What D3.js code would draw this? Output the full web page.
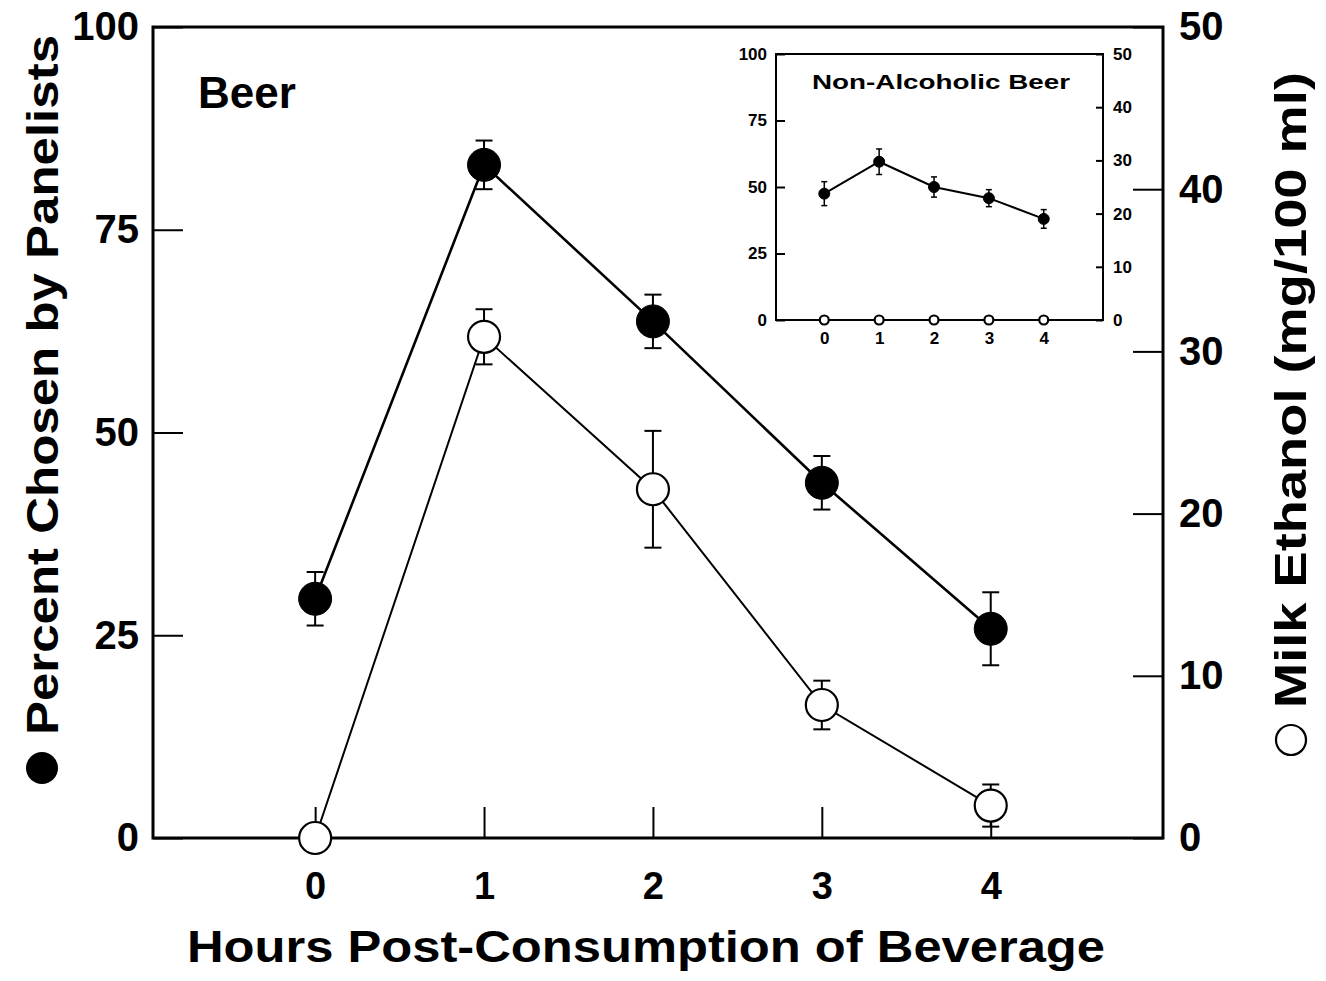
<!DOCTYPE html>
<html>
<head>
<meta charset="utf-8">
<script src="https://cdn.jsdelivr.net/npm/d3@7"></script>
<style>
  body { margin: 0; background: #fff; }
  text { font-family: "Liberation Sans", Arial, sans-serif; font-weight: bold; fill: #000; }
</style>
</head>
<body>
<script>
var width = 1326, height = 981;

// main panel: beer
var hours = [0, 1, 2, 3, 4];
var panelistPct = [29.5, 83, 63.7, 43.8, 25.8];
var panelistErr = [3.3, 3.0, 3.3, 3.3, 4.5];
var ethanol = [0, 30.9, 21.5, 8.2, 2.0];
var ethanolErr = [0, 1.7, 3.6, 1.5, 1.3];

// inset: non-alcoholic beer
var naPanelistPct = [47.5, 59.5, 50, 45.8, 38];
var naPanelistErr = [4.5, 4.8, 3.8, 3.2, 3.5];
var naEthanol = [0, 0, 0, 0, 0];

var leftTicks = [0, 25, 50, 75, 100];
var rightTicks = [0, 10, 20, 30, 40, 50];

var svg = d3.select("body")
            .append("svg")
            .attr("width", width)
            .attr("height", height);

// scales for the main panel
var x = d3.scaleLinear().domain([-0.96, 5.02]).range([153, 1163]);
var yL = d3.scaleLinear().domain([0, 100]).range([838, 27]);
var yR = d3.scaleLinear().domain([0, 50]).range([838, 27]);

function styleAxis(g, size) {
  g.select(".domain").remove();
  g.selectAll(".tick line").attr("stroke", "#000").attr("stroke-width", 2);
  g.selectAll(".tick text")
   .attr("font-size", size)
   .attr("font-family", "'Liberation Sans', Arial, sans-serif")
   .attr("font-weight", "bold");
}

svg.append("g")
   .attr("transform", "translate(153,0)")
   .call(d3.axisLeft(yL).tickValues(leftTicks).tickSize(-30).tickPadding(14))
   .call(styleAxis, 40);

svg.append("g")
   .attr("transform", "translate(1163,0)")
   .call(d3.axisRight(yR).tickValues(rightTicks).tickSize(-30).tickPadding(16))
   .call(styleAxis, 40);

svg.append("g")
   .attr("transform", "translate(0,838)")
   .call(d3.axisBottom(x).tickValues(hours).tickFormat(d3.format("d")).tickSize(-31).tickPadding(34))
   .call(styleAxis, 38);

// frame
svg.append("rect")
   .attr("x", 153).attr("y", 27)
   .attr("width", 1010).attr("height", 811)
   .attr("fill", "none")
   .attr("stroke", "#000")
   .attr("stroke-width", 3);

function errorBars(g, sx, sy, vals, errs, cap, sw) {
  var bars = g.append("g");
  vals.forEach(function(v, i) {
    if (!errs[i]) return;
    var cx = sx(hours[i]);
    bars.append("line")
        .attr("x1", cx).attr("x2", cx)
        .attr("y1", sy(v - errs[i])).attr("y2", sy(v + errs[i]))
        .attr("stroke", "#000").attr("stroke-width", sw);
    [v - errs[i], v + errs[i]].forEach(function(e) {
      bars.append("line")
          .attr("x1", cx - cap / 2).attr("x2", cx + cap / 2)
          .attr("y1", sy(e)).attr("y2", sy(e))
          .attr("stroke", "#000").attr("stroke-width", sw);
    });
  });
}

function series(g, sx, sy, vals, filled, r, lw) {
  var line = d3.line()
               .x(function(d, i) { return sx(hours[i]); })
               .y(function(d) { return sy(d); });
  g.append("path")
   .attr("d", line(vals))
   .attr("fill", "none")
   .attr("stroke", "#000")
   .attr("stroke-width", lw);
  g.append("g")
   .selectAll("circle")
   .data(vals)
   .enter()
   .append("circle")
   .attr("cx", function(d, i) { return sx(hours[i]); })
   .attr("cy", function(d) { return sy(d); })
   .attr("r", r)
   .attr("fill", filled ? "#000" : "#fff")
   .attr("stroke", "#000")
   .attr("stroke-width", filled ? 1 : 2.2);
}

var plot = svg.append("g");
errorBars(plot, x, yL, panelistPct, panelistErr, 17, 2);
errorBars(plot, x, yR, ethanol, ethanolErr, 17, 2);
series(plot, x, yR, ethanol, false, 16, 2);
series(plot, x, yL, panelistPct, true, 16.5, 2.6);

// panel label
svg.append("text")
   .attr("x", 198).attr("y", 108)
   .attr("font-size", 44)
   .text("Beer");

// axis titles
svg.append("text")
   .attr("x", 646).attr("y", 962)
   .attr("text-anchor", "middle")
   .attr("font-size", 44)
   .attr("textLength", 918)
   .attr("lengthAdjust", "spacingAndGlyphs")
   .text("Hours Post-Consumption of Beverage");

svg.append("circle")
   .attr("cx", 42).attr("cy", 768)
   .attr("r", 16)
   .attr("fill", "#000");

svg.append("text")
   .attr("transform", "translate(58,385) rotate(-90)")
   .attr("text-anchor", "middle")
   .attr("font-size", 44)
   .attr("textLength", 700)
   .attr("lengthAdjust", "spacingAndGlyphs")
   .text("Percent Chosen by Panelists");

svg.append("circle")
   .attr("cx", 1291).attr("cy", 740)
   .attr("r", 15)
   .attr("fill", "#fff")
   .attr("stroke", "#000")
   .attr("stroke-width", 2.2);

svg.append("text")
   .attr("transform", "translate(1306,390) rotate(-90)")
   .attr("text-anchor", "middle")
   .attr("font-size", 44)
   .attr("textLength", 636)
   .attr("lengthAdjust", "spacingAndGlyphs")
   .text("Milk Ethanol (mg/100 ml)");

// inset
var ix = d3.scaleLinear().domain([-0.88, 5.08]).range([776, 1103]);
var iyL = d3.scaleLinear().domain([0, 100]).range([320, 54]);
var iyR = d3.scaleLinear().domain([0, 50]).range([320, 54]);

var inset = svg.append("g");

inset.append("rect")
     .attr("x", 776).attr("y", 54)
     .attr("width", 327).attr("height", 266)
     .attr("fill", "#fff");

inset.append("g")
     .attr("transform", "translate(776,0)")
     .call(d3.axisLeft(iyL).tickValues(leftTicks).tickSize(-9).tickPadding(9))
     .call(styleAxis, 17);

inset.append("g")
     .attr("transform", "translate(1103,0)")
     .call(d3.axisRight(iyR).tickValues(rightTicks).tickSize(-7).tickPadding(10))
     .call(styleAxis, 17);

inset.append("g")
     .attr("transform", "translate(0,320)")
     .call(d3.axisBottom(ix).tickValues(hours).tickFormat(d3.format("d")).tickSize(0).tickPadding(12))
     .call(styleAxis, 17);

inset.append("rect")
     .attr("x", 776).attr("y", 54)
     .attr("width", 327).attr("height", 266)
     .attr("fill", "none")
     .attr("stroke", "#000")
     .attr("stroke-width", 2);

errorBars(inset, ix, iyL, naPanelistPct, naPanelistErr, 6, 1.5);
series(inset, ix, iyR, naEthanol, false, 4.5, 1.6);
series(inset, ix, iyL, naPanelistPct, true, 5.5, 2);

inset.append("text")
     .attr("x", 941).attr("y", 89)
     .attr("text-anchor", "middle")
     .attr("font-size", 20)
     .attr("textLength", 258)
     .attr("lengthAdjust", "spacingAndGlyphs")
     .text("Non-Alcoholic Beer");
</script>
</body>
</html>
